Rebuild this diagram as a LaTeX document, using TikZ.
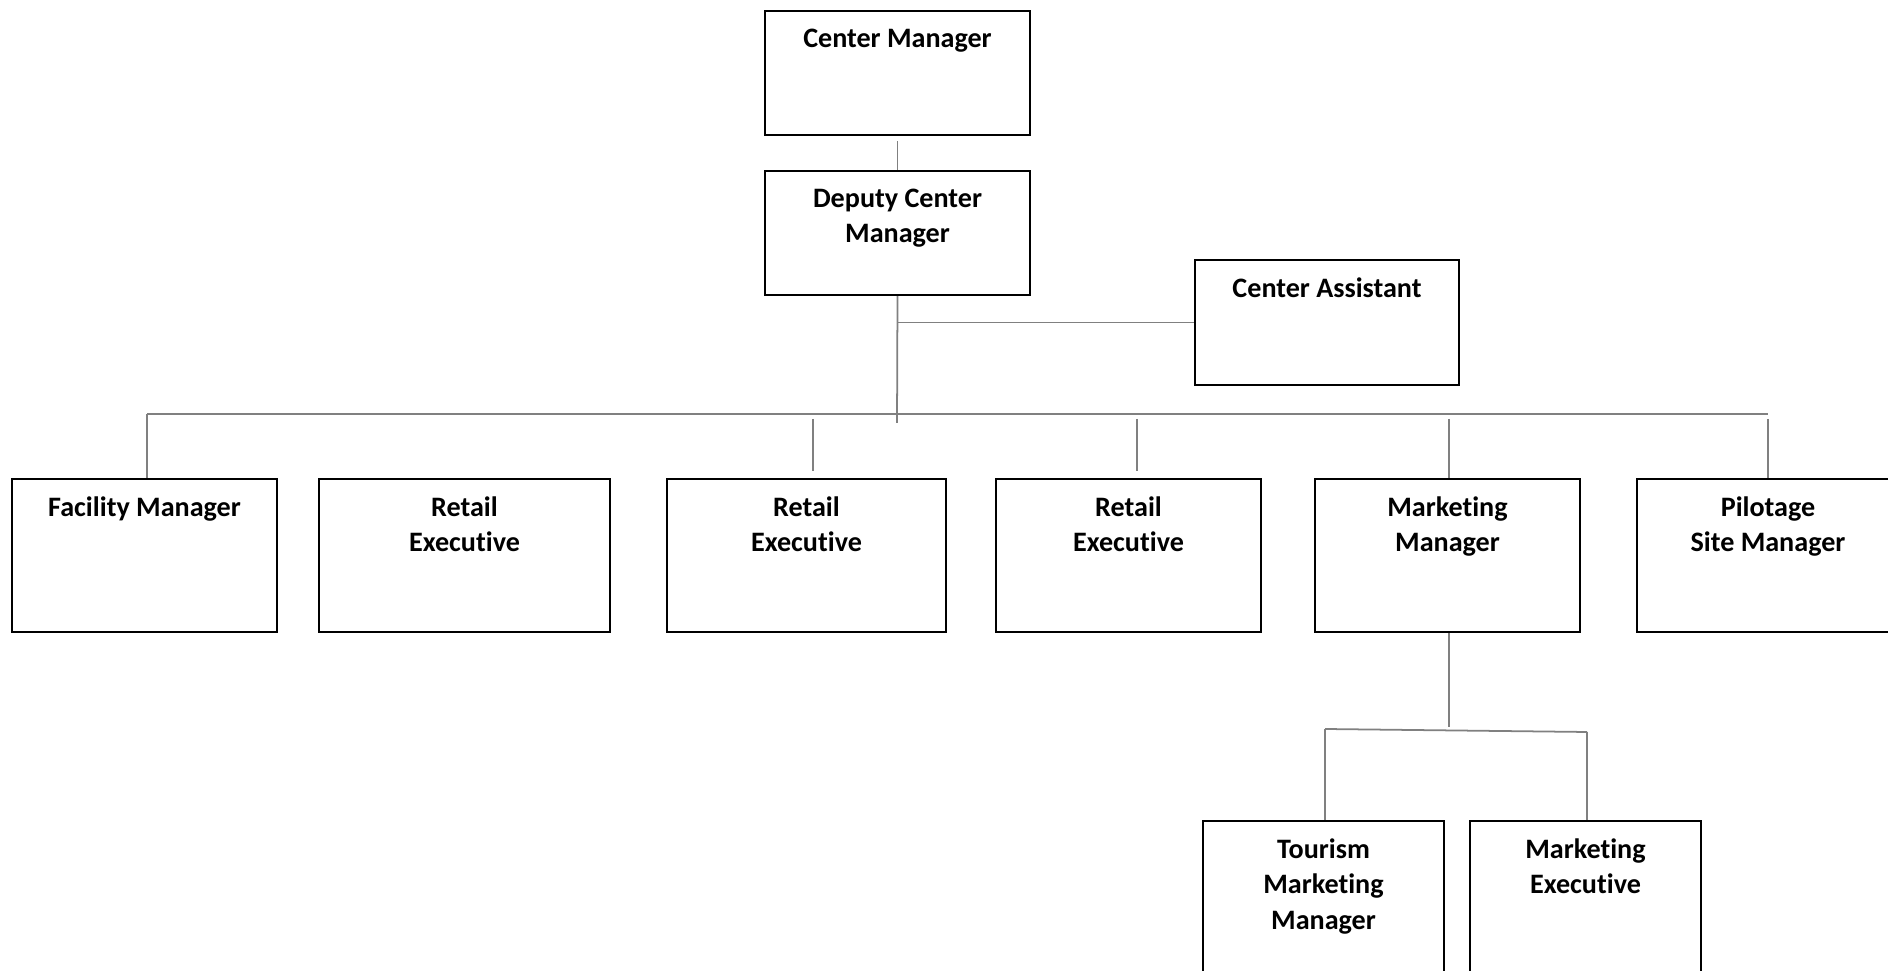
\documentclass[tikz,border=0pt]{standalone}
\usepackage{fontspec}
\setmainfont[Ligatures=NoCommon]{Carlito}
\begin{document}
\begin{tikzpicture}[x=0.01cm,y=-0.01cm,
	box/.style={draw,line width=0.65pt,inner sep=0pt},
	title/.style={anchor=north,yshift=-0.185cm,inner sep=0pt,align=center,font=\bfseries\fontsize{8}{10}\selectfont},
	link/.style={draw=black!50,line width=0.5pt}]
	\useasboundingbox (0,0) rectangle (1888,971);
	\clip (0,0) rectangle (1888,971);
	%top of the chart
	\node[box,minimum width=2.65cm,minimum height=1.24cm,label={[title]north:Center Manager}] (cm) at (897.5,73) {};
	\node[box,minimum width=2.65cm,minimum height=1.24cm,label={[title]north:{Deputy Center\\Manager}}] (dcm) at (897.5,233) {};
	\node[box,minimum width=2.64cm,minimum height=1.25cm,label={[title]north:Center Assistant}] (ca) at (1327,322.5) {};
	%second row
	\node[box,minimum width=2.65cm,minimum height=1.53cm,label={[title]north:Facility Manager}] (fm) at (144.5,555.5) {};
	\node[box,minimum width=2.91cm,minimum height=1.53cm,label={[title]north:{Retail\\Executive}}] (re1) at (464.5,555.5) {};
	\node[box,minimum width=2.79cm,minimum height=1.53cm,label={[title]north:{Retail\\Executive}}] (re2) at (806.5,555.5) {};
	\node[box,minimum width=2.65cm,minimum height=1.53cm,label={[title]north:{Retail\\Executive}}] (re3) at (1128.5,555.5) {};
	\node[box,minimum width=2.65cm,minimum height=1.53cm,label={[title]north:{Marketing\\Manager}}] (mm) at (1447.5,555.5) {};
	\node[box,minimum width=2.62cm,minimum height=1.53cm,label={[title]north:{Pilotage\\Site Manager}}] (psm) at (1768,555.5) {};
	%marketing team
	\node[box,minimum width=2.41cm,minimum height=1.8cm,label={[title]north:{Tourism\\Marketing\\Manager}}] (tmm) at (1323.5,911) {};
	\node[box,minimum width=2.31cm,minimum height=1.8cm,label={[title]north:{Marketing\\Executive}}] (me) at (1585.5,911) {};
	%connectors
	\coordinate (hub) at (897,423);
	\coordinate (busL) at (147,414);
	\coordinate (busR) at (1768,414);
	\coordinate (t2) at (813,419);
	\coordinate (t3) at (1137,419);
	\coordinate (t4) at (1449,419);
	\coordinate (t5) at (1768,419);
	\coordinate (sub) at (1449,727);
	\coordinate (sbL) at (1325,729);
	\coordinate (sbR) at (1587,732);
	\draw[link] ([yshift=-0.05cm]cm.south) -- (dcm.north);
	\draw[link] (dcm.south) -- (hub);
	\draw[link] (dcm.south |- ca.west) -- (ca.west);
	\draw[link] (busL) -- (busR);
	\draw[link] (busL) -- (busL |- fm.north);
	\draw[link] (t2) -- ++(0,52);
	\draw[link] (t3) -- ++(0,52);
	\draw[link] (t4) -- (t4 |- mm.north);
	\draw[link] (t5) -- (t5 |- psm.north);
	\draw[link] (sub |- mm.south) -- (sub);
	\draw[link] (sbL) -- (sbR);
	\draw[link] (sbL) -- (sbL |- tmm.north);
	\draw[link] (sbR) -- (sbR |- me.north);
\end{tikzpicture}
\end{document}
